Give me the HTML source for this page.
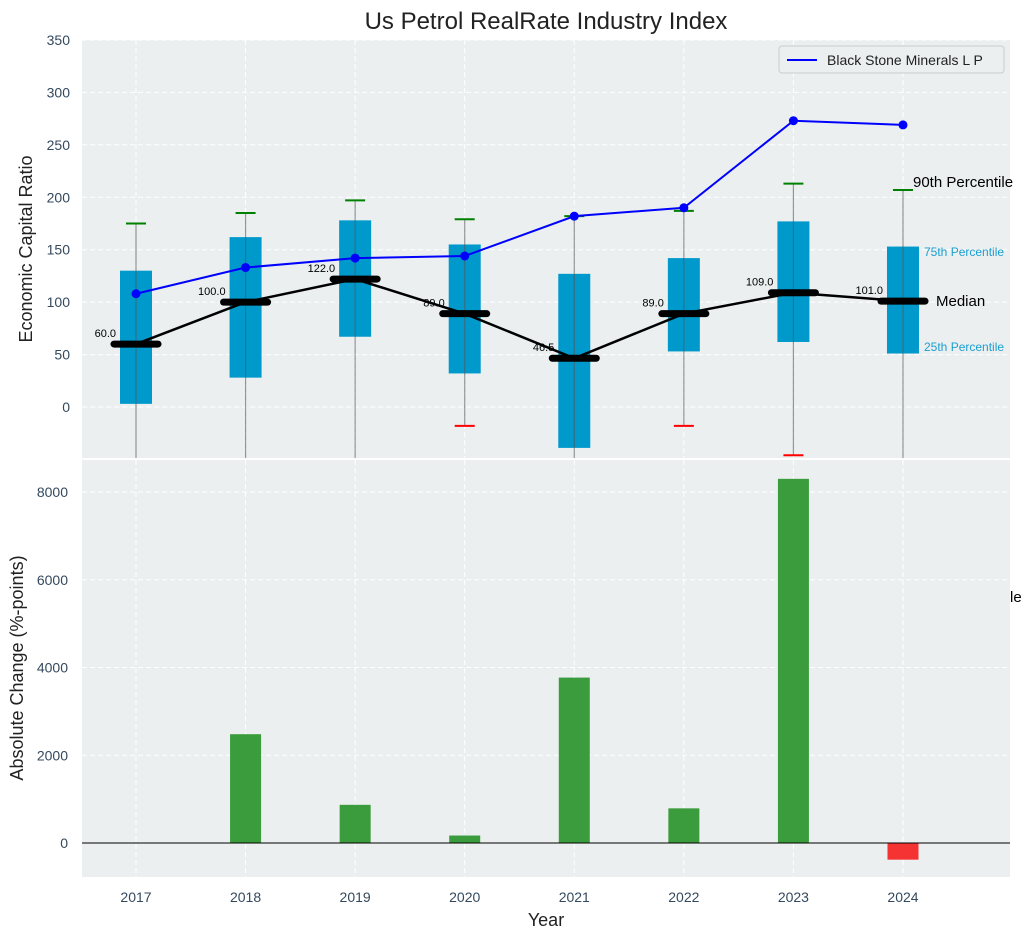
<!DOCTYPE html>
<html><head><meta charset="utf-8">
<style>
body{margin:0;background:#fff;}
svg{display:block;font-family:"Liberation Sans",sans-serif;}
</style></head>
<body>
<svg id="c" width="1034" height="940">
<defs>
<clipPath id="topclip"><rect x="82" y="40" width="928" height="418"/></clipPath>
<clipPath id="botclip"><rect x="82" y="460" width="928" height="417"/></clipPath>
</defs>
<rect x="82" y="40" width="928" height="418" fill="#ebeff0"/>
<rect x="82" y="460" width="928" height="417" fill="#ebeff0"/>
<g id="grid"></g>
<g id="top" clip-path="url(#topclip)"></g>
<g id="bot" clip-path="url(#botclip)"></g>
<g id="axes"></g>
<text x="546" y="29" font-size="24" text-anchor="middle" fill="#222">Us Petrol RealRate Industry Index</text>
<text transform="translate(32,249) rotate(-90)" font-size="18" text-anchor="middle" fill="#222">Economic Capital Ratio</text>
<text transform="translate(23,668) rotate(-90)" font-size="18" text-anchor="middle" fill="#222">Absolute Change (%-points)</text>
<text x="546" y="926" font-size="18" text-anchor="middle" fill="#222">Year</text>
<g>
<rect x="779" y="46" width="225" height="27" rx="3" fill="#ebeff0" stroke="#ccc"/>
<line x1="787" y1="60" x2="817" y2="60" stroke="#0000ff" stroke-width="2"/>
<text x="827" y="65" font-size="14" fill="#222">Black Stone Minerals L P</text>
</g>
<text x="913" y="187" font-size="15" fill="#000">90th Percentile</text>
<text x="924" y="256" font-size="12" fill="#1a9fd0">75th Percentile</text>
<text x="936" y="306" font-size="15" fill="#000">Median</text>
<text x="924" y="351" font-size="12" fill="#1a9fd0">25th Percentile</text>
<text x="1010" y="602" font-size="15" fill="#000">le</text>
</svg>
<script>
const years=[2017,2018,2019,2020,2021,2022,2023,2024];
const q1=[3,28,67,32,-39,53,62,51];
const q3=[130,162,178,155,127,142,177,153];
const medians=[60,100,122,89,46.5,89,109,101];
const p90=[175,185,197,179,182,187,213,207];
const p10=[-80,-80,-80,-18,-80,-18,-46,-80];
const company=[108,133,142,144,182,190,273,269];
const changes=[0,2480,870,170,3770,790,8300,-380];
const topTicks=[0,50,100,150,200,250,300,350];
const botTicks=[0,2000,4000,6000,8000];
const NS='http://www.w3.org/2000/svg';
const X=y=>136+(y-2017)*109.57;
const YT=v=>407-v*1.0486;
const YB=v=>843-v*0.043875;
function mk(p,tag,a){const e=document.createElementNS(NS,tag);for(const k in a)e.setAttribute(k,a[k]);document.getElementById(p).appendChild(e);return e;}
// grid
topTicks.forEach(t=>{const e=mk('grid','line',{x1:82,x2:1010,y1:YT(t),y2:YT(t),stroke:'#fff','stroke-dasharray':'5,3'});


const tx=mk('axes','text',{x:70,y:YT(t)+5,'font-size':14,'text-anchor':'end',fill:'#34495e'});tx.textContent=t;

});
botTicks.forEach(t=>{const e=mk('grid','line',{x1:82,x2:1010,y1:YB(t),y2:YB(t),stroke:'#fff','stroke-dasharray':'5,3'});


const tx=mk('axes','text',{x:68,y:YB(t)+5,'font-size':14,'text-anchor':'end',fill:'#34495e'});tx.textContent=t;

});
years.forEach(y=>{[[40,458],[460,877]].forEach(r=>{const e=mk('grid','line',{x1:X(y),x2:X(y),y1:r[0],y2:r[1],stroke:'#fff','stroke-dasharray':'5,3'});

});
const tx=mk('axes','text',{x:X(y),y:902,'font-size':14,'text-anchor':'middle',fill:'#34495e'});tx.textContent=y;

});
// boxes
years.forEach((y,i)=>{const x=X(y);
const b=mk('top','rect',{x:x-16,y:YT(q3[i]),width:32,height:YT(q1[i])-YT(q3[i]),fill:'#0099cc'});


const w=mk('top','line',{x1:x,x2:x,y1:YT(p90[i]),y2:YT(p10[i]),stroke:'#555','stroke-opacity':0.6,'stroke-width':1.2});


const c1=mk('top','line',{x1:x-10,x2:x+10,y1:YT(p90[i]),y2:YT(p90[i]),stroke:'green','stroke-width':2});


const c2=mk('top','line',{x1:x-10,x2:x+10,y1:YT(p10[i]),y2:YT(p10[i]),stroke:'red','stroke-width':2});

});
const ml=mk('top','polyline',{points:years.map((y,i)=>X(y)+','+YT(medians[i])).join(' '),fill:'none',stroke:'#000','stroke-width':2.5});


years.forEach((y,i)=>{const x=X(y);
const m=mk('top','line',{x1:x-22,x2:x+22,y1:YT(medians[i]),y2:YT(medians[i]),stroke:'#000','stroke-width':7,'stroke-linecap':'round'});


const t=mk('top','text',{x:x-20,y:YT(medians[i])-7,'font-size':11,'text-anchor':'end',fill:'#000'});t.textContent=medians[i].toFixed(1);

});
const cl=mk('top','polyline',{points:years.map((y,i)=>X(y)+','+YT(company[i])).join(' '),fill:'none',stroke:'#0000ff','stroke-width':2});


years.forEach((y,i)=>{const d=mk('top','circle',{cx:X(y),cy:YT(company[i]),r:4.5,fill:'#0000ff'});

});
// bars
years.forEach((y,i)=>{const v=changes[i];if(v===0)return;
const r=mk('bot','rect',{x:X(y)-15.5,y:Math.min(YB(v),YB(0)),width:31,height:Math.abs(YB(v)-YB(0)),fill:v>=0?'#3a9c3c':'#f53333'});

});
const z=mk('bot','line',{x1:82,x2:1010,y1:YB(0),y2:YB(0),stroke:'#000','stroke-width':1});


</script>
</body></html>
